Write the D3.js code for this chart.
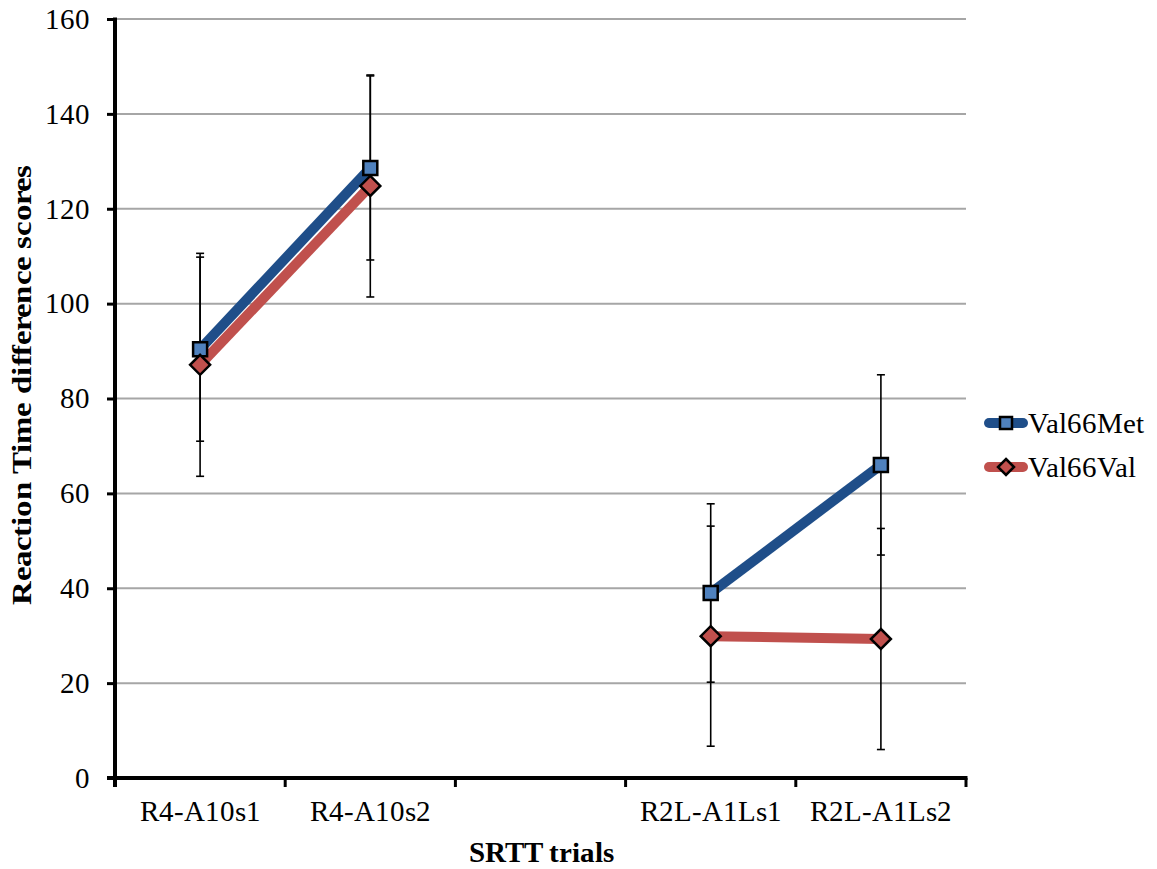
<!DOCTYPE html>
<html>
<head>
<meta charset="utf-8">
<script src="https://cdn.jsdelivr.net/npm/d3@7"></script>
<style>
    @font-face { font-family: "SerifLocal"; font-weight: normal;
        src: local("Liberation Serif"), local("LiberationSerif"), local("Times New Roman"), local("DejaVu Serif"); }
    @font-face { font-family: "SerifLocal"; font-weight: bold;
        src: local("Liberation Serif Bold"), local("LiberationSerif-Bold"), local("Times New Roman Bold"), local("DejaVu Serif Bold"); }
    body { margin: 0; background: #fff; }
    svg text { font-family: "SerifLocal", "Liberation Serif", Times, serif; fill: #000; }
</style>
</head>
<body>
<div id="chart"></div>
<script>
// data
let categories = ["R4-A10s1", "R4-A10s2", "gap", "R2L-A1Ls1", "R2L-A1Ls2"];
let trials = ["R4-A10s1", "R4-A10s2", "R2L-A1Ls1", "R2L-A1Ls2"];
let metValues = [90.4, 128.6, 39.0, 66.0];
let metErrors = [19.4, 19.4, 18.8, 19.0];
let valValues = [87.1, 124.8, 29.9, 29.3];
let valErrors = [23.5, 23.4, 23.2, 23.3];
let yTicks = [0, 20, 40, 60, 80, 100, 120, 140, 160];
let seriesNames = ["Val66Met", "Val66Val"];

let W = 1157, H = 869;
let mLeft = 115, mRight = 966, mTop = 19, mBottom = 778;

var svg = d3.select("#chart")
    .append("svg")
    .attr("width", W)
    .attr("height", H);

var xScale = d3.scaleBand()
    .domain(categories)
    .range([mLeft, mRight])
    .padding(0);

var yScale = d3.scaleLinear()
    .domain([0, 160])
    .range([mBottom, mTop]);

function cx(i) { return xScale(trials[i]) + xScale.bandwidth() / 2; }

// gridlines
svg.append("g")
    .selectAll("line")
    .data(yTicks.filter(d => d > 0))
    .enter()
    .append("line")
    .attr("x1", mLeft)
    .attr("x2", mRight)
    .attr("y1", d => yScale(d))
    .attr("y2", d => yScale(d))
    .attr("stroke", "#a6a6a6")
    .attr("stroke-width", 2);

// y axis
let yAxis = d3.axisLeft(yScale).tickValues(yTicks).tickSize(8).tickPadding(17);
let gy = svg.append("g")
    .attr("transform", "translate(" + mLeft + ",0)")
    .call(yAxis)
    .attr("font-family", null)
    .attr("font-size", 29);
gy.select(".domain").remove();
gy.selectAll(".tick line").attr("stroke", "#000").attr("stroke-width", 3);
gy.selectAll(".tick text").attr("fill", "#000");

svg.append("line")
    .attr("x1", mLeft).attr("x2", mLeft)
    .attr("y1", mTop - 1.5).attr("y2", mBottom + 9)
    .attr("stroke", "#000").attr("stroke-width", 4);

// x axis
let xAxis = d3.axisBottom(xScale).tickValues(trials).tickSize(0).tickPadding(22);
let gx = svg.append("g")
    .attr("transform", "translate(0," + mBottom + ")")
    .call(xAxis)
    .attr("font-family", null)
    .attr("font-size", 29);
gx.select(".domain").remove();
gx.selectAll(".tick text").attr("fill", "#000");

let edges = categories.map(c => xScale(c) + xScale.bandwidth());
svg.append("g")
    .selectAll("line")
    .data(edges)
    .enter()
    .append("line")
    .attr("x1", d => d).attr("x2", d => d)
    .attr("y1", mBottom).attr("y2", mBottom + 9)
    .attr("stroke", "#000").attr("stroke-width", 3);

svg.append("line")
    .attr("x1", mLeft - 8).attr("x2", mRight + 1.5)
    .attr("y1", mBottom).attr("y2", mBottom)
    .attr("stroke", "#000").attr("stroke-width", 4);

// axis titles
svg.append("text")
    .attr("transform", "translate(31,385) rotate(-90)")
    .attr("text-anchor", "middle")
    .attr("textLength", 440)
    .attr("lengthAdjust", "spacingAndGlyphs")
    .attr("font-size", 28)
    .attr("font-weight", "bold")
    .text("Reaction Time difference scores");

svg.append("text")
    .attr("x", 541)
    .attr("y", 862)
    .attr("text-anchor", "middle")
    .attr("font-size", 29)
    .attr("font-weight", "bold")
    .text("SRTT trials");

// series
let lineMet = "#1f4e89", lineVal = "#c0504d";
let fillMet = "#4f81bd", fillVal = "#c0504d";

function drawLine(vals, col) {
    let segs = [[0, 1], [2, 3]];
    segs.forEach(s => {
        svg.append("line")
            .attr("x1", cx(s[0])).attr("y1", yScale(vals[s[0]]))
            .attr("x2", cx(s[1])).attr("y2", yScale(vals[s[1]]))
            .attr("stroke", col)
            .attr("stroke-width", 10);
    });
}
drawLine(metValues, lineMet);
drawLine(valValues, lineVal);

function drawErrors(vals, errs) {
    let g = svg.append("g").attr("stroke", "#000").attr("stroke-width", 1.6);
    vals.forEach((v, i) => {
        let x = cx(i);
        g.append("line").attr("x1", x).attr("x2", x)
            .attr("y1", yScale(v + errs[i])).attr("y2", yScale(v - errs[i]));
        [v + errs[i], v - errs[i]].forEach(e => {
            g.append("line").attr("x1", x - 4).attr("x2", x + 4)
                .attr("y1", yScale(e)).attr("y2", yScale(e));
        });
    });
}
drawErrors(metValues, metErrors);
drawErrors(valValues, valErrors);

function square(x, y, s) {
    return "M" + (x - s) + "," + (y - s) + "h" + 2 * s + "v" + 2 * s + "h" + (-2 * s) + "Z";
}
function diamond(x, y, s) {
    return "M" + x + "," + (y - s) + "L" + (x + s) + "," + y + "L" + x + "," + (y + s) + "L" + (x - s) + "," + y + "Z";
}

svg.selectAll(".met-dot")
    .data(metValues)
    .enter()
    .append("path")
    .attr("class", "met-dot")
    .attr("d", (d, i) => square(cx(i), yScale(d), 7))
    .attr("fill", fillMet)
    .attr("stroke", "#000")
    .attr("stroke-width", 2.5);

svg.selectAll(".val-dot")
    .data(valValues)
    .enter()
    .append("path")
    .attr("class", "val-dot")
    .attr("d", (d, i) => diamond(cx(i), yScale(d), 10))
    .attr("fill", fillVal)
    .attr("stroke", "#000")
    .attr("stroke-width", 2.5);

// legend
let legY = [423, 467];
let legCols = [lineMet, lineVal];
seriesNames.forEach((name, i) => {
    let y = legY[i];
    svg.append("line")
        .attr("x1", 989).attr("x2", 1023)
        .attr("y1", y).attr("y2", y)
        .attr("stroke", legCols[i])
        .attr("stroke-width", 10)
        .attr("stroke-linecap", "round");
    if (i === 0) {
        svg.append("path").attr("d", square(1006, y, 6))
            .attr("fill", fillMet).attr("stroke", "#000").attr("stroke-width", 2.5);
    } else {
        svg.append("path").attr("d", diamond(1006, y, 8))
            .attr("fill", fillVal).attr("stroke", "#000").attr("stroke-width", 2.5);
    }
    svg.append("text")
        .attr("x", 1028)
        .attr("y", y + 10)
        .attr("font-size", 29)
        .text(name);
});
</script>
</body>
</html>
